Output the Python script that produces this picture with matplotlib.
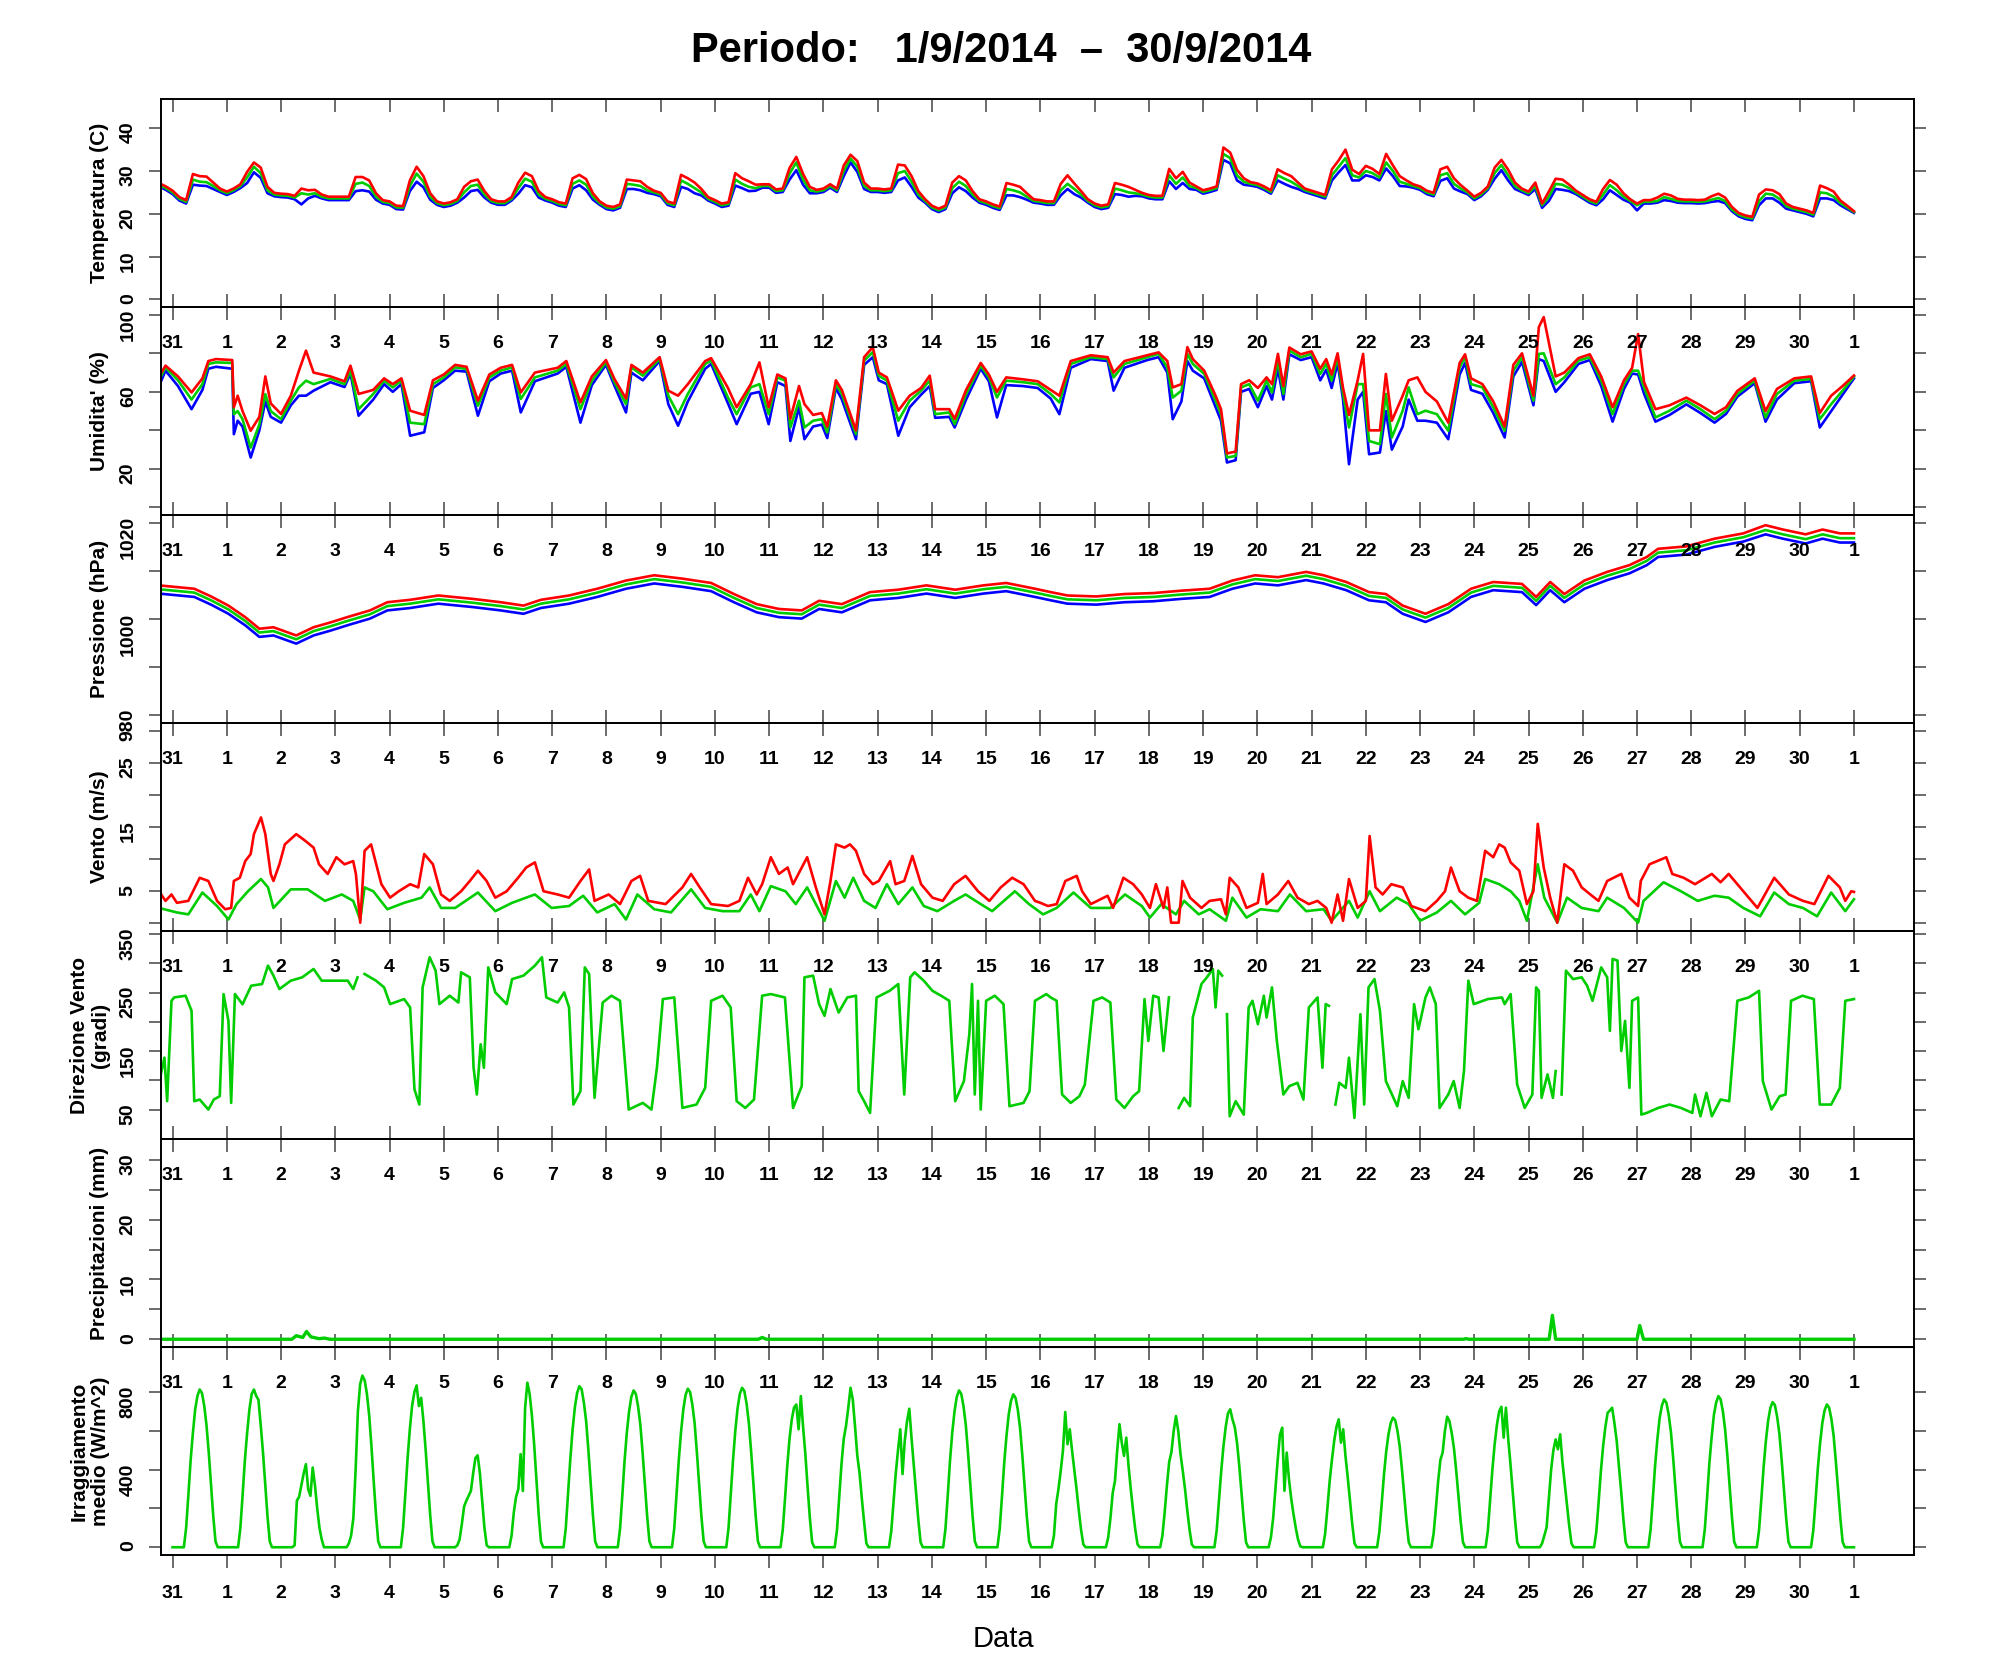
import numpy as np
import matplotlib
matplotlib.use("Agg")
import matplotlib.pyplot as plt
import matplotlib.transforms as mtransforms
from matplotlib.ticker import FixedLocator, FixedFormatter

# ---------------------------------------------------------------- texts
TITLE = "Periodo:   1/9/2014  \u2013  30/9/2014"
X_LABEL = "Data"
DAY_LABELS = ["31"] + [str(d) for d in range(1, 31)] + ["1"]
DAY_POS = list(range(len(DAY_LABELS)))          # 0 = 31 Aug ... 31 = 1 Oct
Y_TITLES = ["Temperatura (C)", "Umidita' (%)", "Pressione (hPa)", "Vento (m/s)",
            "Direzione Vento\n(gradi)", "Precipitazioni (mm)",
            "Irraggiamento\nmedio (W/m^2)"]

# ---------------------------------------------------------------- temperature (3-hourly, from 30 Aug 18h)
TEMP_MEAN = [26.8, 26.0,
 25.0, 23.5, 22.8, 28.0, 27.5, 27.4, 26.5, 25.5,
 24.8, 25.5, 26.5, 28.5, 31.0, 29.5, 25.5, 24.5,
 24.3, 24.2, 23.8, 24.8, 24.5, 24.8, 24.0, 23.6,
 23.6, 23.6, 23.6, 27.0, 27.3, 26.5, 24.0, 22.8,
 22.5, 21.5, 21.4, 26.5, 29.4, 27.5, 24.0, 22.5,
 22.0, 22.3, 23.0, 25.0, 26.5, 26.8, 24.5, 23.0,
 22.5, 22.5, 23.5, 26.0, 28.2, 27.5, 24.5, 23.5,
 23.0, 22.3, 22.0, 27.0, 27.8, 26.8, 24.0, 22.5,
 21.5, 21.2, 21.8, 27.0, 26.8, 26.5, 25.5, 25.0,
 24.5, 22.5, 22.0, 27.8, 27.0, 26.0, 25.0, 23.5,
 22.8, 22.0, 22.3, 28.0, 27.0, 26.3, 26.0, 26.5,
 26.5, 25.3, 25.5, 29.4, 32.0, 28.0, 25.5, 25.2,
 25.5, 26.5, 25.5, 30.0, 32.9, 31.0, 26.5, 25.5,
 25.5, 25.3, 25.5, 29.5, 30.0, 27.5, 24.5, 23.0,
 21.5, 20.8, 21.5, 26.0, 27.5, 26.5, 24.5, 23.0,
 22.5, 21.8, 21.3, 25.8, 25.5, 25.0, 24.0, 23.0,
 22.8, 22.5, 22.5, 25.5, 27.0, 25.8, 24.5, 23.0,
 22.0, 21.5, 21.8, 25.9, 25.5, 25.0, 24.8, 24.5,
 24.0, 23.8, 23.8, 29.0, 27.0, 28.5, 26.5, 26.0,
 25.1, 25.5, 26.0, 34.0, 33.0, 29.0, 27.5, 27.0,
 26.7, 26.0, 25.1, 29.0, 28.2, 27.5, 26.5, 25.5,
 25.0, 24.5, 24.0, 29.0, 31.0, 33.0, 29.0, 28.5,
 30.0, 29.5, 28.5, 32.0, 30.0, 27.5, 27.0, 26.5,
 26.0, 25.0, 24.5, 29.0, 29.5, 27.0, 25.9, 25.0,
 23.6, 24.5, 26.0, 29.5, 31.4, 29.0, 26.5, 25.5,
 24.8, 26.5, 22.0, 24.0, 27.0, 26.8, 26.0, 25.0,
 24.0, 23.0, 22.4, 24.5, 26.7, 25.5, 24.0, 23.0,
 22.0, 22.8, 22.8, 23.0, 23.9, 23.5, 23.0, 22.9,
 22.9, 22.8, 22.9, 23.3, 23.7, 23.0, 21.0, 19.8,
 19.2, 18.9, 23.0, 24.7, 24.5, 23.5, 21.8, 21.2,
 20.8, 20.4, 19.8, 25.0, 24.8, 24.0, 22.5, 21.5,
 20.4]
TEMP_MAX = [27.2, 26.4,
 25.4, 23.9, 23.2, 29.3, 28.8, 28.7, 27.3, 25.9,
 25.2, 25.9, 26.9, 29.8, 32.0, 30.8, 26.3, 24.9,
 24.7, 24.6, 24.2, 25.9, 25.5, 25.6, 24.5, 24.0,
 24.0, 24.0, 24.0, 28.6, 28.6, 27.8, 24.8, 23.2,
 22.9, 21.9, 21.8, 27.8, 31.0, 28.8, 24.8, 22.9,
 22.4, 22.7, 23.4, 26.3, 27.6, 28.0, 25.3, 23.4,
 22.9, 22.9, 23.9, 27.3, 29.6, 28.8, 25.3, 23.9,
 23.4, 22.7, 22.4, 28.3, 29.1, 28.1, 24.8, 22.9,
 21.9, 21.6, 22.2, 28.0, 27.8, 27.6, 26.3, 25.4,
 24.9, 22.9, 22.4, 29.1, 28.3, 27.3, 25.8, 23.9,
 23.2, 22.4, 22.7, 29.5, 28.3, 27.6, 26.8, 26.9,
 26.9, 25.7, 25.9, 30.7, 33.3, 29.3, 26.3, 25.6,
 25.9, 26.9, 25.9, 31.3, 33.8, 32.3, 27.3, 25.9,
 25.9, 25.7, 25.9, 31.5, 31.3, 28.8, 25.3, 23.4,
 21.9, 21.2, 21.9, 27.3, 28.8, 27.8, 25.3, 23.4,
 22.9, 22.2, 21.7, 27.2, 26.8, 26.3, 24.8, 23.4,
 23.2, 22.9, 22.9, 27.0, 29.0, 27.1, 25.3, 23.4,
 22.4, 21.9, 22.2, 27.2, 26.8, 26.3, 25.6, 24.9,
 24.4, 24.2, 24.2, 30.5, 28.3, 29.8, 27.3, 26.4,
 25.5, 25.9, 26.4, 35.5, 34.3, 30.3, 28.3, 27.4,
 27.1, 26.4, 25.5, 30.4, 29.5, 28.8, 27.3, 25.9,
 25.4, 24.9, 24.4, 30.4, 32.5, 35.0, 30.3, 29.3,
 31.2, 30.5, 29.3, 34.0, 31.3, 28.8, 27.8, 26.9,
 26.4, 25.4, 24.9, 30.4, 31.0, 28.3, 26.7, 25.4,
 24.0, 24.9, 26.4, 30.8, 32.6, 30.3, 27.3, 25.9,
 25.2, 27.3, 22.4, 25.2, 28.2, 28.0, 26.8, 25.4,
 24.4, 23.4, 22.8, 25.8, 27.9, 26.8, 24.8, 23.4,
 22.4, 23.2, 23.2, 23.8, 24.7, 24.3, 23.5, 23.3,
 23.3, 23.2, 23.3, 24.1, 24.7, 23.8, 21.6, 20.2,
 19.6, 19.3, 24.5, 25.7, 25.5, 24.6, 22.4, 21.6,
 21.2, 20.8, 20.2, 26.6, 26.0, 25.2, 23.1, 21.9,
 20.6]
TEMP_MIN = [26.4, 25.6,
 24.6, 23.1, 22.4, 26.8, 26.6, 26.5, 25.8, 25.1,
 24.4, 25.1, 26.0, 27.2, 29.7, 28.4, 24.8, 24.1,
 23.9, 23.8, 23.4, 22.2, 23.6, 24.2, 23.6, 23.2,
 23.2, 23.2, 23.2, 25.3, 25.5, 25.2, 23.3, 22.4,
 22.1, 21.1, 21.0, 25.3, 27.5, 26.2, 23.3, 22.1,
 21.6, 21.9, 22.6, 23.8, 25.3, 25.6, 23.8, 22.6,
 22.1, 22.1, 23.1, 24.7, 26.7, 26.2, 23.8, 23.1,
 22.6, 21.9, 21.6, 25.9, 26.7, 25.5, 23.3, 22.1,
 21.1, 20.8, 21.4, 25.8, 25.8, 25.5, 24.9, 24.6,
 24.1, 22.1, 21.6, 26.3, 25.8, 24.8, 24.3, 23.1,
 22.4, 21.6, 21.9, 26.6, 26.0, 25.3, 25.4, 26.1,
 26.1, 24.9, 25.1, 28.0, 30.2, 26.8, 24.8, 24.8,
 25.1, 26.1, 25.1, 28.8, 32.0, 29.8, 25.8, 25.1,
 25.1, 24.9, 25.1, 27.8, 28.5, 26.3, 23.8, 22.6,
 21.1, 20.4, 21.1, 24.8, 26.2, 25.3, 23.8, 22.6,
 22.1, 21.4, 20.9, 24.3, 24.3, 23.9, 23.3, 22.6,
 22.4, 22.1, 22.1, 24.3, 25.8, 24.6, 23.8, 22.6,
 21.6, 21.1, 21.4, 24.6, 24.4, 24.0, 24.2, 24.1,
 23.6, 23.4, 23.4, 27.6, 25.8, 27.2, 25.8, 25.6,
 24.7, 25.1, 25.6, 32.6, 31.8, 27.8, 26.8, 26.6,
 26.3, 25.6, 24.7, 27.8, 27.0, 26.3, 25.8, 25.1,
 24.6, 24.1, 23.6, 27.8, 29.7, 31.4, 27.8, 27.8,
 29.0, 28.6, 27.8, 30.6, 28.8, 26.5, 26.4, 26.1,
 25.6, 24.6, 24.1, 27.7, 28.3, 25.9, 25.2, 24.6,
 23.2, 24.1, 25.6, 28.2, 30.2, 27.8, 25.8, 25.1,
 24.4, 25.8, 21.4, 23.0, 25.8, 25.6, 25.3, 24.6,
 23.6, 22.6, 22.0, 23.4, 25.5, 24.4, 23.3, 22.6,
 20.8, 22.4, 22.4, 22.6, 23.2, 23.0, 22.6, 22.5,
 22.5, 22.4, 22.5, 22.8, 23.0, 22.5, 20.6, 19.4,
 18.8, 18.5, 22.0, 23.6, 23.6, 22.6, 21.2, 20.8,
 20.4, 20.0, 19.4, 23.6, 23.6, 23.2, 22.0, 21.1,
 20.2]

# ---------------------------------------------------------------- humidity: (day, mean, max, min)
_HUM = [
 (-0.25, 66, 68, 63), (-0.13, 72.7, 73.6, 71), (0.1, 66, 68, 63), (0.35, 56, 59.7, 51),
 (0.55, 64, 67, 61), (0.66, 74.5, 76, 72), (0.8, 75.3, 77, 73), (1.1, 75, 76.5, 72),
 (1.13, 48.4, 52, 38), (1.2, 50, 58, 45), (1.29, 45.8, 50, 42), (1.44, 31, 39.8, 25.9),
 (1.6, 43, 47, 40), (1.71, 58.8, 68, 55), (1.81, 50, 54, 47), (2.0, 45.8, 48.5, 44),
 (2.18, 55.4, 58, 53), (2.33, 62.3, 71, 58), (2.46, 65.8, 81.4, 58), (2.6, 64, 70, 60.6),
 (2.91, 66.7, 68, 65), (3.17, 64, 65.5, 62.5), (3.28, 71, 73.6, 69.5), (3.43, 51, 58.9, 47.6),
 (3.7, 58.9, 61, 56), (3.9, 65.8, 67, 64), (4.06, 62.3, 64, 60), (4.22, 65.8, 67, 64),
 (4.38, 44, 50.2, 37.2), (4.64, 43.2, 48, 39), (4.8, 64, 66, 62), (5.0, 67.5, 69, 66),
 (5.21, 72.7, 74, 71), (5.42, 71.9, 73, 70.5), (5.63, 52.8, 55.4, 47.6), (5.84, 67.5, 69, 65.5),
 (6.05, 71, 72.5, 69.5), (6.26, 72.7, 74, 71), (6.42, 56.3, 59.7, 49.3), (6.68, 67.5, 70, 65.5),
 (7.1, 71, 72.5, 69.5), (7.26, 74.5, 76, 73), (7.52, 51, 54.5, 44), (7.73, 65.8, 68, 63.5),
 (7.99, 75.3, 76.5, 74), (8.15, 64.9, 66.5, 63), (8.36, 53.6, 56.5, 49.3), (8.46, 72.7, 74, 70),
 (8.67, 68.4, 70, 66), (8.98, 77, 78, 76), (9.14, 58, 60.6, 53.6), (9.32, 48.4, 58, 42.4),
 (9.5, 58.9, 64, 55), (9.82, 74.5, 76, 72), (9.93, 76.2, 77.5, 74.5), (10.24, 57, 62, 54),
 (10.4, 48.4, 52, 43.2), (10.66, 62.3, 64, 59), (10.82, 64, 75.3, 60), (10.99, 48.4, 52, 43.2),
 (11.15, 67.5, 69, 65), (11.3, 65.8, 67, 63), (11.39, 41.5, 46, 34.5), (11.55, 55.4, 63, 52),
 (11.65, 41.5, 53.6, 35.4), (11.81, 45, 48, 42), (11.97, 45.8, 49, 43), (12.07, 38.9, 42, 36),
 (12.23, 64, 66, 62), (12.34, 58.9, 61, 56), (12.6, 38, 40, 35.4), (12.75, 76.2, 78, 74),
 (12.91, 80.6, 83.2, 78), (13.02, 68.4, 70, 66), (13.17, 65.8, 67.5, 64), (13.38, 45, 50.2, 37.2),
 (13.59, 55.4, 58, 52), (13.8, 60.6, 62, 58.5), (13.96, 65.8, 68.4, 63), (14.06, 48.4, 51, 46.5),
 (14.32, 49.3, 51, 47), (14.42, 43.2, 46, 41.5), (14.63, 58.9, 61, 56), (14.9, 73.6, 75, 72),
 (15.05, 67.5, 69, 65.5), (15.2, 57.1, 60, 46.7), (15.37, 65.8, 67.5, 63.5), (15.68, 65, 66.5, 63),
 (15.95, 64, 65.5, 62), (16.19, 58.9, 61, 56.5), (16.35, 54.5, 58, 48.4), (16.56, 74.5, 76, 72.5),
 (16.93, 78, 79, 77), (17.24, 77, 78, 76), (17.35, 67.5, 70, 60.6), (17.55, 74.5, 76, 72.5),
 (17.76, 76.2, 77.5, 74.5), (17.97, 78, 79, 76.5), (18.18, 79.7, 80.5, 78), (18.34, 72.7, 76, 70),
 (18.44, 57, 62.3, 45.8), (18.6, 60.6, 64, 55), (18.71, 79.7, 83.2, 76), (18.81, 74.5, 77, 71),
 (19.02, 69.3, 71, 67), (19.23, 55.4, 58, 52), (19.33, 48.4, 51, 45), (19.44, 25.9, 28, 23.3),
 (19.6, 26.7, 29, 24.5), (19.7, 62.3, 64, 60), (19.85, 64, 66, 61.5), (20.01, 55.4, 62, 52),
 (20.17, 65.8, 67.5, 63), (20.27, 59.7, 64, 56), (20.38, 76.2, 79.7, 72), (20.48, 58.9, 63, 56),
 (20.59, 81.4, 83, 79.5), (20.8, 78, 79.5, 76.5), (21.0, 79.7, 81, 78), (21.16, 69.3, 72, 66),
 (21.27, 74.5, 77, 71.5), (21.37, 65.8, 69, 62), (21.48, 78, 80, 75), (21.58, 58.9, 62, 56),
 (21.69, 41.5, 48, 22.4), (21.85, 64, 66, 56), (21.95, 64, 79.7, 60), (22.06, 34.5, 40, 27.6),
 (22.26, 32.8, 40, 28.5), (22.37, 58.9, 69.3, 50), (22.48, 36.3, 45, 30), (22.68, 50.2, 58, 42),
 (22.79, 62.3, 66, 56), (22.95, 48.4, 67.5, 45), (23.1, 50.2, 60, 45), (23.31, 48.4, 55, 44),
 (23.52, 39.8, 44, 35.4), (23.73, 72.7, 75, 69), (23.83, 78, 79.5, 75), (23.94, 64, 67, 61),
 (24.15, 62.3, 64, 59), (24.35, 52, 55, 49), (24.56, 39.8, 42, 36.3), (24.72, 71, 74, 68),
 (24.88, 78, 80, 75.5), (25.09, 55.4, 58, 53), (25.19, 79.7, 93.6, 77), (25.28, 80, 98.8, 76),
 (25.5, 64, 68, 60), (25.66, 67.5, 70, 65), (25.92, 76.2, 77.5, 74.5), (26.13, 78, 79.5, 76.5),
 (26.34, 65.8, 68, 63), (26.55, 48.4, 52, 44.5), (26.76, 64, 66, 61.5), (26.91, 71, 72.5, 69.5),
 (27.02, 71, 90, 69), (27.13, 62.3, 65, 59), (27.34, 46.7, 51, 44.5), (27.6, 50.2, 53, 48),
 (27.91, 55.4, 57, 53.5), (28.17, 51, 53, 49), (28.43, 45.8, 48.5, 44), (28.64, 50.2, 52, 48.5),
 (28.85, 58.9, 60.5, 57.5), (29.17, 65.8, 67, 64.5), (29.37, 46.7, 50, 44.5), (29.58, 58.9, 61.5, 56),
 (29.9, 65.8, 67, 64.5), (30.21, 66.7, 68, 65.5), (30.37, 45.8, 49, 41.5), (30.58, 53.6, 58, 50),
 (30.79, 60.6, 63, 58.5), (31.0, 67.9, 68.5, 67)]
HUM_TIME, HUM_MEAN, HUM_MAX, HUM_MIN = [list(c) for c in zip(*_HUM)]

# ---------------------------------------------------------------- pressure
PRES_TIME = [-0.25, 0.4, 0.71, 1.03, 1.34, 1.6, 1.86, 2.28, 2.6, 2.91, 3.22, 3.64, 3.96, 4.38,
 4.9, 5.53, 6.05, 6.47, 6.79, 7.31, 7.83, 8.36, 8.88, 9.4, 9.93, 10.35, 10.77, 11.18, 11.6,
 11.92, 12.34, 12.86, 13.38, 13.9, 14.43, 14.95, 15.37, 15.9, 16.19, 16.5, 17.03, 17.55,
 18.08, 18.6, 19.12, 19.54, 19.96, 20.38, 20.9, 21.22, 21.64, 22.06, 22.37, 22.68, 23.1,
 23.52, 23.94, 24.35, 24.88, 25.14, 25.4, 25.66, 26.03, 26.45, 26.86, 27.18, 27.39, 27.91,
 28.43, 28.96, 29.37, 29.69, 30.11, 30.42, 30.74, 31.0]
PRES_MEAN = [1006.2, 1005.5, 1003.9, 1002.0, 999.6, 997.2, 997.5, 995.8, 997.5, 998.5, 999.6,
 1001.0, 1002.7, 1003.2, 1004.1, 1003.4, 1002.7, 1002.0, 1003.2, 1004.1, 1005.5, 1007.2,
 1008.3, 1007.6, 1006.7, 1004.4, 1002.3, 1001.3, 1001.0, 1003.0, 1002.3, 1004.8, 1005.3,
 1006.2, 1005.3, 1006.2, 1006.7, 1005.5, 1004.8, 1004.1, 1003.9, 1004.4, 1004.6, 1005.1,
 1005.5, 1007.2, 1008.3, 1007.9, 1009.0, 1008.3, 1006.9, 1004.8, 1004.4, 1002.0, 1000.3,
 1002.3, 1005.5, 1006.9, 1006.5, 1003.8, 1006.9, 1004.4, 1007.2, 1009.0, 1010.4, 1012.1,
 1013.8, 1014.3, 1015.9, 1017.0, 1018.5, 1017.6, 1016.6, 1017.6, 1016.8, 1016.8]
PRES_MAX = [1007.0, 1006.3, 1004.7, 1002.8, 1000.4, 998.0, 998.3, 996.6, 998.3, 999.3, 1000.4,
 1001.8, 1003.5, 1004.0, 1004.9, 1004.2, 1003.5, 1002.8, 1004.0, 1004.9, 1006.3, 1008.0,
 1009.1, 1008.4, 1007.5, 1005.2, 1003.1, 1002.1, 1001.8, 1003.8, 1003.1, 1005.6, 1006.1,
 1007.0, 1006.1, 1007.0, 1007.5, 1006.3, 1005.6, 1004.9, 1004.7, 1005.2, 1005.4, 1005.9,
 1006.3, 1008.0, 1009.1, 1008.7, 1009.8, 1009.1, 1007.7, 1005.6, 1005.2, 1002.8, 1001.1,
 1003.1, 1006.3, 1007.7, 1007.3, 1004.6, 1007.7, 1005.2, 1008.0, 1009.8, 1011.2, 1012.9,
 1014.6, 1015.1, 1016.7, 1017.8, 1019.5, 1018.6, 1017.6, 1018.6, 1017.8, 1017.8]
PRES_MIN = [1005.3, 1004.6, 1003.0, 1001.1, 998.7, 996.3, 996.6, 994.9, 996.6, 997.6, 998.7,
 1000.1, 1001.8, 1002.3, 1003.2, 1002.5, 1001.8, 1001.1, 1002.3, 1003.2, 1004.6, 1006.3,
 1007.4, 1006.7, 1005.8, 1003.5, 1001.4, 1000.4, 1000.1, 1002.1, 1001.4, 1003.9, 1004.4,
 1005.3, 1004.4, 1005.3, 1005.8, 1004.6, 1003.9, 1003.2, 1003.0, 1003.5, 1003.7, 1004.2,
 1004.6, 1006.3, 1007.4, 1007.0, 1008.1, 1007.4, 1006.0, 1003.9, 1003.5, 1001.1, 999.4,
 1001.4, 1004.6, 1006.0, 1005.6, 1002.9, 1006.0, 1003.5, 1006.3, 1008.1, 1009.5, 1011.2,
 1012.9, 1013.4, 1015.0, 1016.1, 1017.6, 1016.7, 1015.7, 1016.7, 1015.9, 1015.9]

# ---------------------------------------------------------------- wind speed: gust (red) and mean (green)
_GUST = [(-0.25, 5.0), (-0.13, 3.5), (-0.02, 4.5), (0.08, 3.2), (0.29, 3.5), (0.5, 7.1), (0.66, 6.6),
 (0.82, 3.5), (0.97, 2.2), (1.08, 2.4), (1.13, 6.6), (1.24, 7.1), (1.34, 9.7), (1.44, 10.8),
 (1.5, 13.9), (1.63, 16.5), (1.71, 13.9), (1.81, 7.7), (1.86, 6.6), (1.97, 9.2), (2.07, 12.3),
 (2.28, 13.9), (2.44, 12.9), (2.6, 11.8), (2.7, 9.2), (2.86, 7.7), (3.02, 10.3), (3.17, 9.2),
 (3.33, 9.7), (3.38, 7.7), (3.46, 0.1), (3.54, 11.3), (3.66, 12.3), (3.85, 6.1), (4.01, 4.0),
 (4.17, 5.0), (4.38, 6.1), (4.53, 5.6), (4.64, 10.8), (4.8, 9.2), (4.95, 4.5), (5.11, 3.5),
 (5.32, 5.0), (5.48, 6.6), (5.63, 8.2), (5.79, 6.6), (5.95, 4.0), (6.16, 5.0), (6.37, 7.1),
 (6.52, 8.7), (6.68, 9.5), (6.84, 5.0), (7.1, 4.5), (7.31, 4.0), (7.52, 6.6), (7.68, 8.4),
 (7.78, 3.5), (8.04, 4.5), (8.25, 3.0), (8.46, 6.6), (8.62, 7.4), (8.77, 3.5), (9.09, 3.0),
 (9.4, 5.6), (9.56, 7.7), (9.72, 5.6), (9.93, 3.0), (10.24, 2.7), (10.45, 3.5), (10.61, 7.1),
 (10.77, 4.5), (10.87, 6.1), (11.03, 10.3), (11.18, 7.7), (11.34, 8.7), (11.44, 6.1),
 (11.7, 10.3), (11.86, 5.6), (12.02, 1.4), (12.13, 6.6), (12.23, 12.3), (12.39, 11.8),
 (12.49, 12.3), (12.6, 11.3), (12.75, 7.7), (12.91, 6.1), (13.02, 6.6), (13.23, 9.7),
 (13.33, 6.1), (13.49, 6.6), (13.64, 10.5), (13.8, 6.1), (14.01, 4.0), (14.2, 3.5),
 (14.41, 6.1), (14.62, 7.4), (14.85, 5.0), (15.06, 3.5), (15.27, 5.6), (15.48, 7.1),
 (15.69, 6.1), (15.9, 3.5), (16.0, 3.2), (16.14, 2.7), (16.3, 3.0), (16.46, 6.6), (16.67, 7.4),
 (16.77, 5.0), (16.93, 3.0), (17.24, 4.3), (17.34, 2.4), (17.53, 7.1), (17.71, 6.1),
 (17.87, 4.5), (18.02, 2.4), (18.13, 6.1), (18.27, 2.4), (18.34, 5.6), (18.41, 0.1),
 (18.55, 0.1), (18.62, 6.6), (18.76, 4.0), (18.97, 2.4), (19.12, 3.5), (19.33, 3.75),
 (19.42, 1.4), (19.49, 7.1), (19.65, 5.6), (19.8, 2.4), (20.01, 3.2), (20.1, 7.7), (20.17, 3.0),
 (20.38, 4.5), (20.57, 6.6), (20.74, 4.0), (20.95, 3.0), (21.11, 3.5), (21.27, 2.4),
 (21.37, 0.1), (21.48, 4.5), (21.58, 0.4), (21.69, 6.9), (21.85, 2.4), (22.0, 3.5),
 (22.07, 13.6), (22.18, 5.6), (22.31, 4.5), (22.47, 6.1), (22.68, 5.6), (22.84, 2.7),
 (23.1, 1.9), (23.31, 3.5), (23.46, 5.0), (23.57, 8.7), (23.73, 5.0), (23.89, 4.0),
 (24.05, 3.5), (24.2, 11.3), (24.35, 10.3), (24.46, 12.3), (24.56, 11.8), (24.67, 9.5),
 (24.83, 8.2), (24.97, 3.0), (25.09, 5.0), (25.17, 15.5), (25.28, 8.7), (25.4, 4.0),
 (25.53, 0.1), (25.66, 9.2), (25.82, 8.2), (25.98, 5.6), (26.14, 4.5), (26.29, 3.5),
 (26.45, 6.6), (26.71, 7.7), (26.86, 4.0), (27.02, 2.7), (27.07, 6.6), (27.23, 9.2),
 (27.54, 10.3), (27.65, 7.7), (27.86, 7.1), (28.07, 6.1), (28.38, 7.7), (28.54, 6.4),
 (28.69, 7.7), (28.96, 5.0), (29.22, 2.4), (29.53, 7.1), (29.8, 4.5), (30.06, 3.5),
 (30.27, 3.0), (30.53, 7.4), (30.74, 5.6), (30.84, 3.5), (30.95, 5.0), (31.0, 4.9)]
GUST_TIME, GUST_SPEED = [list(c) for c in zip(*_GUST)]

_WMEAN = [(-0.25, 2.4), (0.08, 1.7), (0.29, 1.4), (0.55, 4.8), (0.82, 2.7), (1.03, 0.6), (1.18, 3.0),
 (1.39, 5.0), (1.63, 6.9), (1.76, 5.6), (1.86, 2.4), (2.18, 5.3), (2.49, 5.3), (2.81, 3.5),
 (3.12, 4.5), (3.33, 3.5), (3.46, 0.6), (3.54, 5.6), (3.7, 5.0), (3.96, 2.2), (4.27, 3.2),
 (4.59, 4.0), (4.74, 5.6), (4.95, 2.4), (5.21, 2.4), (5.63, 4.8), (5.95, 1.9), (6.26, 3.2),
 (6.68, 4.5), (6.99, 2.4), (7.31, 2.7), (7.57, 4.3), (7.83, 1.7), (8.15, 3.0), (8.36, 0.6),
 (8.57, 4.5), (8.88, 2.2), (9.19, 1.7), (9.56, 5.3), (9.82, 2.4), (10.14, 1.9), (10.45, 1.9),
 (10.66, 4.5), (10.82, 1.9), (11.03, 5.8), (11.3, 5.0), (11.49, 3.0), (11.7, 5.6),
 (12.02, 0.4), (12.23, 6.6), (12.39, 4.0), (12.55, 7.1), (12.75, 3.5), (12.96, 2.4),
 (13.17, 6.1), (13.38, 3.0), (13.64, 5.6), (13.85, 2.7), (14.1, 1.9), (14.41, 3.5),
 (14.62, 4.5), (14.9, 3.0), (15.11, 1.9), (15.53, 5.0), (15.79, 3.0), (16.05, 1.4),
 (16.3, 2.4), (16.61, 4.8), (16.93, 2.4), (17.29, 2.4), (17.56, 4.5), (17.87, 2.7),
 (18.02, 0.9), (18.23, 3.0), (18.5, 1.4), (18.65, 3.5), (18.92, 1.4), (19.12, 2.2),
 (19.42, 0.4), (19.54, 4.0), (19.8, 0.9), (20.06, 2.2), (20.38, 1.9), (20.6, 4.5),
 (20.9, 1.9), (21.22, 2.2), (21.37, 0.4), (21.69, 3.5), (21.85, 0.9), (22.07, 5.0),
 (22.26, 1.9), (22.57, 4.0), (22.79, 3.0), (23.0, 0.4), (23.31, 1.7), (23.57, 3.5),
 (23.83, 1.4), (24.09, 3.2), (24.2, 6.9), (24.46, 6.1), (24.67, 5.0), (24.83, 3.5),
 (24.97, 0.4), (25.17, 9.2), (25.29, 4.0), (25.53, 0.1), (25.71, 4.0), (25.98, 2.4),
 (26.29, 1.9), (26.45, 4.0), (26.76, 2.4), (27.02, 0.1), (27.12, 3.5), (27.49, 6.4),
 (27.81, 5.0), (28.12, 3.5), (28.43, 4.3), (28.69, 4.0), (28.96, 2.4), (29.27, 1.1),
 (29.53, 4.8), (29.8, 3.0), (30.06, 2.4), (30.32, 1.1), (30.58, 4.8), (30.84, 1.9), (31.0, 3.75)]
WIND_TIME, WIND_SPEED = [list(c) for c in zip(*_WMEAN)]

# ---------------------------------------------------------------- wind direction (None = missing)
_DIR = [(-0.25, 100), (-0.23, 104.6), (-0.15, 139), (-0.1, 64.6), (-0.02, 236), (0.03, 241.7),
 (0.24, 244.6), (0.35, 218.9), (0.4, 64.6), (0.5, 67.4), (0.66, 50.3), (0.76, 67.4), (0.87, 73.1),
 (0.94, 247.4), (1.03, 201.7), (1.08, 61.7), (1.15, 247.4), (1.29, 230), (1.45, 261.7),
 (1.65, 264.6), (1.76, 296), (1.86, 278.9), (1.97, 256), (2.18, 270.3), (2.39, 276),
 (2.6, 290.3), (2.75, 270.3), (3.02, 270.3), (3.23, 270.3), (3.33, 256), (3.41, 276),
 (3.47, None), (3.54, 281.7), (3.75, 270.3), (3.9, 258.9), (4.01, 230.3), (4.27, 238.9),
 (4.38, 224.6), (4.46, 84.6), (4.55, 58.9), (4.61, 258.9), (4.74, 310.3), (4.85, 287.4),
 (4.92, 230.3), (5.11, 244.6), (5.27, 233), (5.32, 284.6), (5.48, 276), (5.55, 121.7),
 (5.61, 76), (5.68, 161.7), (5.74, 121.7), (5.82, 293), (5.95, 250.3), (6.16, 230.3),
 (6.26, 273), (6.47, 278.9), (6.68, 296), (6.81, 310.3), (6.89, 241.7), (7.1, 233),
 (7.22, 250.3), (7.31, 224.6), (7.39, 58.9), (7.52, 81.7), (7.6, 293), (7.68, 281.7),
 (7.78, 70.3), (7.93, 233), (8.09, 244.6), (8.25, 236), (8.41, 50.3), (8.67, 61.7),
 (8.83, 50.3), (8.93, 121.7), (9.04, 238.9), (9.25, 241.7), (9.4, 53.1), (9.66, 58.9),
 (9.82, 87.4), (9.93, 236), (10.14, 244.6), (10.29, 224.6), (10.4, 64.6), (10.56, 53.1),
 (10.72, 67.4), (10.87, 244.6), (11.03, 247.4), (11.29, 241.7), (11.44, 53.1), (11.6, 90.3),
 (11.65, 276), (11.81, 278.9), (11.92, 230.3), (12.02, 210.3), (12.13, 256), (12.28, 216),
 (12.44, 241.7), (12.6, 244.6), (12.65, 81.7), (12.75, 64.6), (12.86, 44.6), (12.98, 241.7),
 (13.22, 253), (13.38, 264.6), (13.49, 76), (13.6, 276), (13.68, 284.6), (13.85, 270.3),
 (14.01, 253), (14.17, 244.6), (14.32, 236), (14.43, 64.6), (14.59, 98.9), (14.69, 178.9),
 (14.74, 264.6), (14.79, 76), (14.85, 236), (14.9, 50.3), (15.0, 236), (15.16, 244.6),
 (15.32, 230.3), (15.43, 56), (15.69, 61.7), (15.8, 81.7), (15.9, 236), (16.11, 247.4),
 (16.19, 241.7), (16.3, 236), (16.4, 76), (16.56, 61.7), (16.72, 73.1), (16.82, 93.1),
 (16.98, 236), (17.14, 241.7), (17.29, 233), (17.4, 67.4), (17.55, 53.1), (17.71, 73.1),
 (17.82, 81.7), (17.92, 238.9), (17.99, 167.4), (18.08, 244.6), (18.18, 241.7),
 (18.27, 150.3), (18.37, 241.7), (18.45, None), (18.55, 53.1), (18.65, 70.3), (18.76, 56),
 (18.81, 207.4), (18.97, 264.6), (19.07, 276), (19.18, 290.3), (19.23, 224.6), (19.28, 287.4),
 (19.35, 278.9), (19.4, None), (19.44, 213.1), (19.49, 38.9), (19.6, 64.6), (19.75, 41.7),
 (19.84, 224.6), (19.91, 236), (20.01, 196), (20.12, 244.6), (20.17, 207.4), (20.27, 258.9),
 (20.36, 167.4), (20.48, 76), (20.59, 90.3), (20.74, 96), (20.85, 67.4), (20.95, 224.6),
 (21.11, 241.7), (21.2, 121.7), (21.26, 230.3), (21.32, 227.4), (21.38, None), (21.44, 58.9),
 (21.51, 96), (21.63, 87.4), (21.69, 138.9), (21.79, 36), (21.9, 213.1), (21.97, 58.9),
 (22.05, 258.9), (22.16, 273), (22.26, 218.9), (22.37, 98.9), (22.58, 56), (22.68, 98.9),
 (22.79, 70.3), (22.89, 230.3), (22.97, 187.4), (23.1, 241.7), (23.18, 258.9), (23.29, 230.3),
 (23.36, 53.1), (23.52, 76), (23.62, 98.9), (23.73, 53.1), (23.81, 116), (23.89, 270.3),
 (23.99, 230.3), (24.25, 238.9), (24.51, 241.7), (24.56, 230.3), (24.67, 247.4), (24.79, 93.1),
 (24.93, 53.1), (25.07, 76), (25.14, 258.9), (25.19, 253), (25.24, 70.3), (25.35, 110.3),
 (25.45, 70.3), (25.5, 116), (25.55, None), (25.61, 76), (25.69, 287.4), (25.82, 273),
 (25.98, 276), (26.08, 261.7), (26.18, 236), (26.34, 293), (26.45, 276), (26.5, 184.6),
 (26.55, 307.4), (26.64, 304.6), (26.71, 150.3), (26.78, 201.7), (26.86, 87.4), (26.91, 236),
 (27.02, 241.7), (27.08, 41.7), (27.18, 44.6), (27.39, 53.1), (27.6, 58.9), (27.81, 53.1),
 (28.02, 44.6), (28.07, 76), (28.17, 38.9), (28.28, 78.9), (28.38, 38.9), (28.54, 67.4),
 (28.7, 64.6), (28.85, 236), (29.06, 241.7), (29.25, 253), (29.32, 98.9), (29.48, 50.3),
 (29.63, 73.1), (29.74, 76), (29.84, 236), (30.05, 244.6), (30.26, 238.9), (30.37, 58.9),
 (30.58, 58.9), (30.74, 87.4), (30.84, 236), (31.0, 238.9)]
DIR_TIME, DIR_DEG = [list(c) for c in zip(*_DIR)]

# ---------------------------------------------------------------- precipitation
RAIN_TIME = [-0.25, 2.2, 2.28, 2.4, 2.47, 2.55, 2.6, 2.7, 2.8, 2.9, 10.8, 10.87, 10.95,
             23.8, 23.85, 23.9, 25.38, 25.44, 25.5, 27.0, 27.05, 27.12, 31.0]
RAIN_MM = [0, 0, 0.6, 0.3, 1.3, 0.4, 0.3, 0.1, 0.2, 0, 0, 0.3, 0,
           0, 0.1, 0, 0, 4.0, 0, 0, 2.3, 0, 0]

# ---------------------------------------------------------------- irradiance (hourly, 05h..19h of each day; night = 0)
IRR_HOURS = list(range(5, 20))
IRR_DAILY = [
 [0, 100, 270, 450, 590, 710, 780, 813, 795, 730, 630, 490, 325, 160, 30],
 [0, 100, 270, 450, 590, 710, 790, 813, 780, 760, 630, 490, 325, 160, 30],
 [0, 10, 240, 260, 320, 380, 428, 300, 265, 411, 320, 200, 100, 40, 0],
 [0, 20, 60, 150, 400, 700, 840, 885, 860, 790, 680, 520, 340, 170, 30],
 [0, 100, 275, 460, 610, 730, 800, 834, 728, 770, 650, 500, 330, 165, 30],
 [0, 10, 40, 120, 210, 240, 265, 290, 380, 460, 474, 380, 240, 100, 10],
 [0, 60, 180, 260, 300, 480, 290, 720, 848, 790, 680, 530, 350, 170, 30],
 [0, 100, 275, 455, 605, 720, 795, 830, 815, 745, 650, 500, 330, 165, 30],
 [0, 95, 265, 445, 590, 700, 775, 808, 790, 725, 630, 485, 325, 160, 30],
 [0, 98, 270, 450, 595, 710, 785, 817, 800, 735, 640, 490, 325, 160, 30],
 [0, 98, 270, 450, 600, 715, 790, 822, 805, 740, 640, 495, 330, 165, 30],
 [0, 90, 250, 420, 560, 660, 720, 736, 608, 779, 620, 480, 310, 150, 25],
 [0, 90, 260, 430, 560, 625, 720, 822, 760, 620, 471, 380, 250, 130, 20],
 [0, 80, 230, 380, 500, 608, 377, 550, 650, 714, 560, 420, 280, 140, 25],
 [0, 95, 265, 445, 590, 700, 775, 808, 790, 725, 630, 485, 325, 160, 30],
 [0, 95, 260, 435, 575, 685, 755, 788, 770, 710, 615, 475, 315, 158, 30],
 [0, 60, 223, 300, 394, 500, 697, 531, 608, 500, 400, 300, 190, 90, 15],
 [0, 50, 150, 280, 342, 500, 634, 540, 471, 565, 420, 300, 190, 90, 15],
 [0, 60, 180, 320, 440, 491, 600, 676, 600, 480, 394, 300, 190, 90, 15],
 [0, 85, 235, 390, 520, 620, 690, 711, 659, 620, 540, 420, 280, 140, 25],
 [0, 50, 150, 300, 450, 580, 616, 291, 488, 350, 250, 170, 100, 40, 5],
 [0, 70, 200, 340, 450, 548, 620, 659, 539, 608, 470, 360, 240, 120, 20],
 [0, 80, 220, 370, 490, 580, 640, 668, 655, 600, 520, 400, 270, 135, 25],
 [0, 70, 200, 340, 450, 488, 600, 673, 650, 590, 510, 395, 265, 130, 25],
 [0, 85, 240, 400, 530, 630, 700, 724, 565, 719, 560, 430, 290, 145, 25],
 [0, 20, 60, 103, 250, 400, 500, 556, 505, 582, 440, 330, 220, 110, 20],
 [0, 80, 230, 390, 520, 620, 693, 705, 719, 640, 550, 420, 285, 140, 25],
 [0, 90, 250, 420, 555, 665, 730, 762, 745, 685, 595, 460, 305, 152, 28],
 [0, 92, 255, 430, 565, 680, 745, 779, 762, 700, 605, 470, 312, 156, 28],
 [0, 88, 245, 410, 545, 650, 718, 748, 733, 673, 585, 450, 300, 150, 28],
 [0, 86, 240, 405, 535, 640, 705, 736, 720, 662, 575, 440, 295, 147, 27]]

# ---------------------------------------------------------------- axis settings
Y_TICKS = [[0, 10, 20, 30, 40], [0, 20, 40, 60, 80, 100], [980, 990, 1000, 1010, 1020],
           [0, 5, 10, 15, 20, 25, 30], [50, 100, 150, 200, 250, 300, 350],
           [0, 5, 10, 15, 20, 25, 30], [0, 200, 400, 600, 800]]
Y_TICK_LABELS = [["0", "10", "20", "30", "40"], ["", "20", "", "60", "", "100"],
                 ["980", "", "1000", "", "1020"], ["", "5", "", "15", "", "25", ""],
                 ["50", "", "150", "", "250", "", "350"], ["0", "", "10", "", "20", "", "30"],
                 ["0", "", "400", "", "800"]]
Y_LIMS = [(-1.8, 46.8), (-4, 104), (978.4, 1021.6), (-1.2, 31.2), (0, 355),
          (-1.3, 33.5), (-40, 1032)]
X_LIM = (-0.212, 32.106)

RED, GREEN, BLUE = "#FF0000", "#00CD00", "#0000FF"
FONT = ["Liberation Sans", "DejaVu Sans"]

plt.rcParams["font.family"] = FONT
plt.rcParams["font.weight"] = "bold"

fig = plt.figure(figsize=(19.91, 16.8), dpi=100)
left, right, top, bottom = 0.0809, 0.9613, 0.941, 0.0744
h = (top - bottom) / 7
axes = []
for i in range(7):
    ax = fig.add_axes([left, top - (i + 1) * h, right - left, h])
    ax.set_facecolor("none")
    axes.append(ax)

LW = 1.9


def series(t0, step, values):
    return t0 + step * np.arange(len(values)), np.asarray(values, float)


# temperature
for vals, col in ((TEMP_MIN, BLUE), (TEMP_MEAN, GREEN), (TEMP_MAX, RED)):
    tt, vv = series(-0.25, 0.125, vals)
    axes[0].plot(tt, vv, color=col, lw=LW)
# humidity
for vals, col in ((HUM_MIN, BLUE), (HUM_MEAN, GREEN), (HUM_MAX, RED)):
    axes[1].plot(HUM_TIME, vals, color=col, lw=LW)
# pressure
for vals, col in ((PRES_MIN, BLUE), (PRES_MEAN, GREEN), (PRES_MAX, RED)):
    axes[2].plot(PRES_TIME, vals, color=col, lw=LW)
# wind speed
axes[3].plot(WIND_TIME, WIND_SPEED, color=GREEN, lw=LW)
axes[3].plot(GUST_TIME, GUST_SPEED, color=RED, lw=LW)
# direction
axes[4].plot(DIR_TIME, np.array(DIR_DEG, dtype=float), color=GREEN, lw=LW)
# rain
axes[5].plot(RAIN_TIME, RAIN_MM, color=GREEN, lw=2.4)
# irradiance
irr_t, irr_v = [], []
for d, row in enumerate(IRR_DAILY):
    for hr in range(24):
        irr_t.append(d + hr / 24.0)
        irr_v.append(row[IRR_HOURS.index(hr)] if hr in IRR_HOURS else 0)
irr_t.append(31.0)
irr_v.append(0)
axes[6].plot(irr_t, irr_v, color=GREEN, lw=LW)

TICK_COL = "#444444"
for i, ax in enumerate(axes):
    last = i == 6
    ax.set_xlim(*X_LIM)
    ax.set_ylim(*Y_LIMS[i])
    ax.xaxis.set_major_locator(FixedLocator(DAY_POS))
    ax.xaxis.set_major_formatter(FixedFormatter([""] * len(DAY_POS)))
    ax.tick_params(axis="x", which="major", direction="out" if last else "in",
                   length=9.5, width=1.1, color=TICK_COL, top=not last, bottom=True,
                   labelbottom=False, labeltop=False)
    ax.yaxis.set_major_locator(FixedLocator(Y_TICKS[i]))
    ax.yaxis.set_major_formatter(FixedFormatter(Y_TICK_LABELS[i]))
    ax.tick_params(axis="y", which="major", direction="out", length=8.5, width=1.1,
                   color=TICK_COL, left=True, right=True, labelleft=True,
                   labelright=False, labelsize=14, labelrotation=90, pad=9)
    for s in ax.spines.values():
        s.set_linewidth(1.4)
        s.set_color("black")
    two_line = "\n" in Y_TITLES[i]
    ax.set_ylabel(Y_TITLES[i], fontsize=15, fontweight="bold", linespacing=1.15,
                  va="center")
    ax.yaxis.set_label_coords(-0.0405 if two_line else -0.0354, 0.5)

# inward ticks at the top of the last panel
sec = axes[6].secondary_xaxis("top")
sec.set_xticks(DAY_POS)
sec.set_xticklabels([""] * len(DAY_POS))
sec.tick_params(axis="x", direction="in", length=9.5, width=1.1, color=TICK_COL)

# day labels under each panel boundary and under the last panel
for i in range(1, 7):
    tr = mtransforms.blended_transform_factory(axes[i].transData, axes[i].transAxes)
    for p, lab in zip(DAY_POS, DAY_LABELS):
        axes[i].text(p, 0.827, lab, transform=tr, ha="center", va="center",
                     fontsize=14, fontweight="bold")
tr = mtransforms.blended_transform_factory(axes[6].transData, axes[6].transAxes)
for p, lab in zip(DAY_POS, DAY_LABELS):
    axes[6].text(p, -0.183, lab, transform=tr, ha="center", va="center",
                 fontsize=14, fontweight="bold", clip_on=False)

fig.text(0.503, 0.9697, TITLE, ha="center", va="center", fontsize=30,
         fontweight="bold")
fig.text(0.504, 0.0244, X_LABEL, ha="center", va="center", fontsize=21,
         fontweight="normal")

fig.savefig("out.png", dpi=100, facecolor="white")
